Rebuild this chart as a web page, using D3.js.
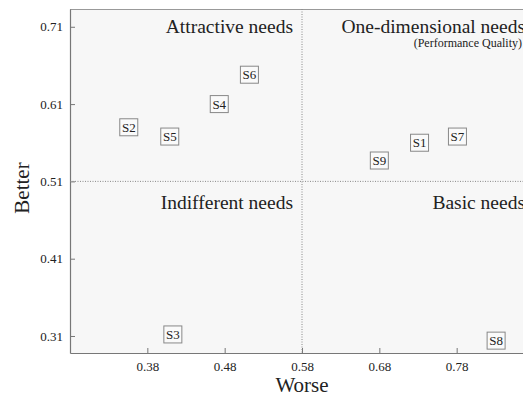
<!DOCTYPE html>
<html><head><meta charset="utf-8">
<script src="https://cdn.jsdelivr.net/npm/d3@7"></script>
<style>body{margin:0;background:#fff;} svg{display:block;font-family:"Liberation Serif","Times New Roman",serif;}</style>
</head><body><svg id="c" width="523" height="396"></svg>
<script>
const labels = ["S1","S2","S3","S4","S5","S6","S7","S8","S9"];
const worse  = [0.732,0.356,0.413,0.473,0.409,0.512,0.781,0.831,0.680];
const better = [0.560,0.580,0.312,0.610,0.568,0.648,0.568,0.304,0.537];
const xTicks = [0.38,0.48,0.58,0.68,0.78];
const yTicks = [0.31,0.41,0.51,0.61,0.71];
const xSplit = 0.58, ySplit = 0.51;

const svg = d3.select("#c");
const L=70, R=534, T=9, B=353;
const x = d3.scaleLinear().domain([0.28,0.88]).range([L,R]);
const y = d3.scaleLinear().domain([0.288,0.733]).range([B,T]);

svg.append("rect").attr("x",L).attr("y",T).attr("width",R-L).attr("height",B-T).attr("fill","#f7f7f7");
svg.append("line").attr("x1",L).attr("x2",R).attr("y1",T+0.5).attr("y2",T+0.5).attr("stroke","#999").attr("stroke-width",1.2);

const xa = svg.append("g").attr("transform",`translate(0,${B})`)
  .call(d3.axisBottom(x).tickValues(xTicks).tickFormat(d3.format(".2f")).tickSizeInner(-5).tickSizeOuter(0).tickPadding(9));
const ya = svg.append("g").attr("transform",`translate(${L},0)`)
  .call(d3.axisLeft(y).tickValues(yTicks).tickFormat(d3.format(".2f")).tickSizeInner(-5).tickSizeOuter(0).tickPadding(7));
[xa,ya].forEach(g=>{
  g.select(".domain").attr("stroke","#777").attr("stroke-width",1.2);
  g.selectAll(".tick line").attr("stroke","#777");
  g.selectAll(".tick text").attr("fill","#222").attr("font-size",13).attr("font-family","Liberation Serif, serif");
});

svg.append("line").attr("x1",x(xSplit)).attr("x2",x(xSplit)).attr("y1",T).attr("y2",B)
  .attr("stroke","#888").attr("stroke-dasharray","1,1.5");
svg.append("line").attr("x1",L).attr("x2",R).attr("y1",y(ySplit)).attr("y2",y(ySplit))
  .attr("stroke","#888").attr("stroke-dasharray","1,1.5");

const q = [
  {t:"Attractive needs", x:x(xSplit)-9, y:33, s:19.5},
  {t:"One-dimensional needs", x:R-9, y:33, s:19.5},
  {t:"(Performance Quality)", x:R-12, y:47, s:12},
  {t:"Indifferent needs", x:x(xSplit)-9, y:209, s:19.5},
  {t:"Basic needs", x:R-9, y:209, s:19.5}
];
svg.selectAll(".q").data(q).join("text").attr("x",d=>d.x).attr("y",d=>d.y)
  .attr("text-anchor","end").attr("font-size",d=>d.s).attr("fill","#222").text(d=>d.t);

const pts = labels.map((l,i)=>({l, w:worse[i], b:better[i]}));
const g = svg.selectAll(".p").data(pts).join("g").attr("transform",d=>`translate(${x(d.w)},${y(d.b)})`);
g.append("rect").attr("x",-9).attr("y",-8.5).attr("width",18).attr("height",17)
  .attr("fill","#fafafa").attr("stroke","#888").attr("stroke-width",1);
g.append("text").attr("text-anchor","middle").attr("dy","0.35em").attr("font-size",13).attr("fill","#222").text(d=>d.l);

svg.append("text").attr("x",x(0.58)).attr("y",392).attr("text-anchor","middle").attr("font-size",21).attr("fill","#222").text("Worse");
svg.append("text").attr("transform",`translate(29,188) rotate(-90)`).attr("text-anchor","middle").attr("font-size",21).attr("fill","#222").text("Better");
</script></body></html>
